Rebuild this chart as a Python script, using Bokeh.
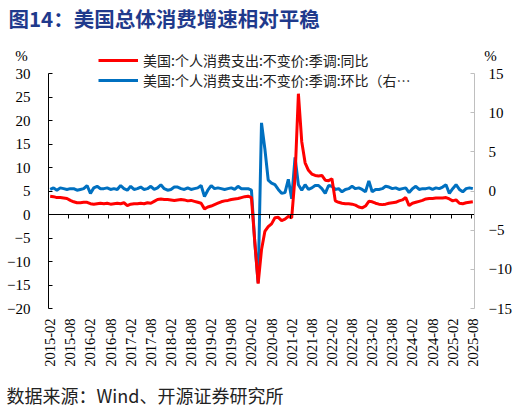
import numpy as np
import pandas as pd
from math import pi
from bokeh.plotting import figure
from bokeh.models import (Range1d, LinearAxis, FixedTicker, Label, Legend,
                          LegendItem)
from bokeh.embed import file_html
from bokeh.resources import INLINE

# ---------------- data ----------------
months = pd.date_range("2015-02-01", "2025-08-01", freq="MS").strftime("%Y-%m").tolist()

# 美国:个人消费支出:不变价:季调:同比 (%), 2015-02 .. 2025-08
yoy = [
    3.9, 3.8, 3.6, 3.6, 3.5, 3.4, 3.0, 2.7, 2.5, 2.5, 2.6,                      # 2015
    2.6, 2.3, 2.2, 2.3, 2.4, 2.3, 2.4, 2.2, 2.3, 2.4, 2.3, 2.5,                 # 2016
    1.9, 2.2, 2.3, 2.3, 2.4, 2.3, 2.5, 2.4, 2.8, 3.2, 3.3, 3.2,                 # 2017
    3.2, 3.1, 3.0, 3.1, 3.2, 3.1, 2.9, 3.0, 2.8, 2.6, 2.4, 1.2,                 # 2018
    1.6, 1.8, 2.1, 2.4, 2.7, 2.9, 3.0, 3.2, 3.3, 3.4, 3.6, 3.8,                 # 2019
    3.9, 3.6, -5.8, -14.7, -7.5, -3.6, -2.6, -2.0, -0.7, -0.6, -1.3, -1.0,      # 2020
    -0.4, -0.7, 8.0, 25.7, 15.5, 11.0, 9.4, 8.6, 8.3, 8.2, 8.3, 7.3,            # 2021
    7.2, 7.6, 2.9, 2.6, 2.4, 2.3, 2.3, 2.2, 2.0, 1.6, 1.4, 1.8,                 # 2022
    2.8, 2.7, 2.4, 2.2, 2.1, 2.2, 2.4, 2.5, 2.6, 2.9, 3.1, 3.6,                 # 2023
    1.9, 2.4, 2.6, 2.8, 3.0, 3.3, 3.4, 3.4, 3.5, 3.5, 3.5, 3.6,                 # 2024
    3.3, 2.9, 3.1, 2.4, 2.3, 2.5, 2.6, 2.7,                                     # 2025
]

# 美国:个人消费支出:不变价:季调:环比 (%), right axis, 2015-02 .. 2025-08
mom = [
    0.2, 0.4, 0.1, 0.4, 0.3, 0.2, 0.3, 0.3, 0.1, 0.2, 0.3,                      # 2015
    0.7, -0.3, 0.4, 0.6, 0.3, 0.3, 0.4, 0.2, 0.3, 0.2, 0.7, 0.3,                # 2016
    0.1, 0.6, 0.2, 0.3, 0.5, 0.2, 0.3, 0.6, 0.2, 0.4, 0.8, 0.3,                 # 2017
    0.1, 0.2, 0.5, 0.5, 0.3, 0.2, 0.4, 0.2, 0.3, 0.4, 0.7, -0.7,                # 2018
    0.1, 0.7, 0.3, 0.4, 0.3, 0.2, 0.3, 0.4, 0.2, 0.6, 0.3, 0.3,                 # 2019
    0.3, 0.1, -6.6, -11.7, 8.7, 5.4, 1.4, 1.0, 0.8, 0.2, -0.3, -0.2,            # 2020
    1.5, -1.0, 4.3, 0.8, 0.1, 0.8, 0.2, 0.4, 0.7, 0.7, 0.3, -0.3,               # 2021
    0.7, 0.6, 0.2, 0.3, -0.1, 0.2, 0.3, 0.6, 0.3, 0.4, 0.2, -0.1,               # 2022
    1.3, -0.1, 0.2, 0.2, 0.3, 0.6, 0.5, 0.3, 0.4, 0.2, 0.3, 0.4,                # 2023
    -0.2, 0.3, 0.6, 0.2, 0.3, 0.3, 0.4, 0.2, 0.4, 0.3, 0.5, 0.8,                # 2024
    -0.3, 0.3, 0.8, 0.2, -0.1, 0.3, 0.4, 0.3,                                   # 2025
]

left_ticks = [-20, -15, -10, -5, 0, 5, 10, 15, 20, 25, 30]
right_ticks = [-15, -10, -5, 0, 5, 10, 15]
label_idx = list(range(0, len(months), 6))
label_text = {i: months[i] for i in label_idx}
boundary_ticks = [i + 5.5 for i in label_idx[:-1]]

title_text = "图14：美国总体消费增速相对平稳"
source_text = "数据来源：Wind、开源证券研究所"
name_yoy = "美国:个人消费支出:不变价:季调:同比"
name_mom = "美国:个人消费支出:不变价:季调:环比（右…"

x = list(range(len(months)))

SERIF = "'Liberation Serif', 'Times New Roman', serif"
CJK = "'Noto Sans CJK SC', sans-serif"

# ---------------- layout (pixels inside the figure) ----------------
W, H = 522, 408
PL, PR, PT, PB = 48, 474, 73, 308          # plotting box edges
n = len(months)
xlo, xhi = -0.5, n - 0.5
ylo, yhi = left_ticks[0], left_ticks[-1]
rlo, rhi = right_ticks[0], right_ticks[-1]
sx = (PR - PL) / (xhi - xlo)
sy = (PB - PT) / (yhi - ylo)
sr = (PB - PT) / (rhi - rlo)

p = figure(width=W, height=H, output_backend="svg", toolbar_location=None,
           title=None, x_axis_location=None, y_axis_location=None,
           x_range=Range1d(xlo - PL / sx, xhi + (W - PR) / sx),
           y_range=Range1d(ylo - (H - PB) / sy, yhi + PT / sy),
           min_border=0, min_border_left=0, min_border_right=0,
           min_border_top=0, min_border_bottom=0,
           background_fill_color="white", border_fill_color="white")
p.outline_line_color = None
p.grid.visible = False
p.extra_y_ranges = {"right": Range1d(rlo - (H - PB) / sr, rhi + PT / sr)}

# left axis
ya = LinearAxis(fixed_location=xlo, bounds=(ylo, yhi),
                ticker=FixedTicker(ticks=left_ticks),
                major_tick_in=4, major_tick_out=0, minor_tick_in=0, minor_tick_out=0,
                major_label_standoff=18, axis_line_color="black",
                major_tick_line_color="black", major_label_text_font=SERIF,
                major_label_text_font_size="15px", major_label_text_color="black")
p.add_layout(ya, "left")

# right axis
ra = LinearAxis(y_range_name="right", fixed_location=xhi, bounds=(rlo, rhi),
                ticker=FixedTicker(ticks=right_ticks),
                major_tick_in=4, major_tick_out=0, minor_tick_in=0, minor_tick_out=0,
                major_label_standoff=14, axis_line_color="#bfbfbf",
                major_tick_line_color="#bfbfbf", major_label_text_font=SERIF,
                major_label_text_font_size="15px", major_label_text_color="black")
p.add_layout(ra, "right")

# bottom axis carrying the month labels
xa = LinearAxis(fixed_location=ylo, bounds=(xlo, xhi),
                ticker=FixedTicker(ticks=label_idx),
                major_label_overrides=label_text, major_label_orientation=pi / 2,
                major_label_standoff=10, major_tick_in=0, major_tick_out=0,
                minor_tick_in=0, minor_tick_out=0, axis_line_color=None,
                major_label_text_font=SERIF, major_label_text_font_size="14.5px",
                major_label_text_color="black")
p.add_layout(xa, "below")

# zero line with tick marks
za = LinearAxis(fixed_location=0, bounds=(xlo, xhi),
                ticker=FixedTicker(ticks=boundary_ticks),
                major_label_overrides={t: "" for t in boundary_ticks},
                major_tick_out=4, major_tick_in=0, minor_tick_out=0, minor_tick_in=0,
                axis_line_color="black", major_tick_line_color="black")
p.add_layout(za, "below")

# lines
r_mom = p.line(x, mom, color="#0070C0", line_width=3, y_range_name="right")
r_yoy = p.line(x, yoy, color="#FF0000", line_width=3)

legend = Legend(items=[LegendItem(label=name_yoy, renderers=[r_yoy]),
                       LegendItem(label=name_mom, renderers=[r_mom])],
                location=(98, H - 90), padding=0, margin=0, spacing=0,
                label_height=20, glyph_height=20, glyph_width=40,
                label_standoff=5, border_line_alpha=0, background_fill_alpha=0,
                label_text_font=CJK, label_text_font_size="14px",
                label_text_color="#222222")
p.add_layout(legend)

# separator rules under the title and above the source line
# (drawn as legend swatches of an empty gray line style)
rule_style = p.line([], [], line_color="#7f7f7f", line_width=1.5)
for row in (33, 378):
    p.add_layout(Legend(items=[LegendItem(label="", renderers=[rule_style])],
                        location=(6, H - row - 1), padding=0, margin=0, spacing=0,
                        glyph_width=510, glyph_height=2, label_height=2,
                        label_width=0, label_standoff=0, border_line_alpha=0,
                        background_fill_alpha=0, label_text_font_size="2px"))

# texts (screen units from the bottom-left corner)
p.add_layout(Label(x=8, y=H - 17, x_units="screen", y_units="screen", text=title_text,
                   text_font=CJK, text_font_style="bold", text_font_size="20.5px",
                   text_color="#1F3A8C", text_baseline="middle"))
p.add_layout(Label(x=6, y=H - 394, x_units="screen", y_units="screen", text=source_text,
                   text_font=CJK, text_font_size="18px", text_color="#222222",
                   text_baseline="middle"))
p.add_layout(Label(x=21, y=H - 55, x_units="screen", y_units="screen", text="%",
                   text_font=SERIF, text_font_size="15px", text_color="black",
                   text_align="center", text_baseline="middle"))
p.add_layout(Label(x=490, y=H - 55, x_units="screen", y_units="screen", text="%",
                   text_font=SERIF, text_font_size="15px", text_color="black",
                   text_align="center", text_baseline="middle"))

open("out.html", "w").write(file_html(p, INLINE))
